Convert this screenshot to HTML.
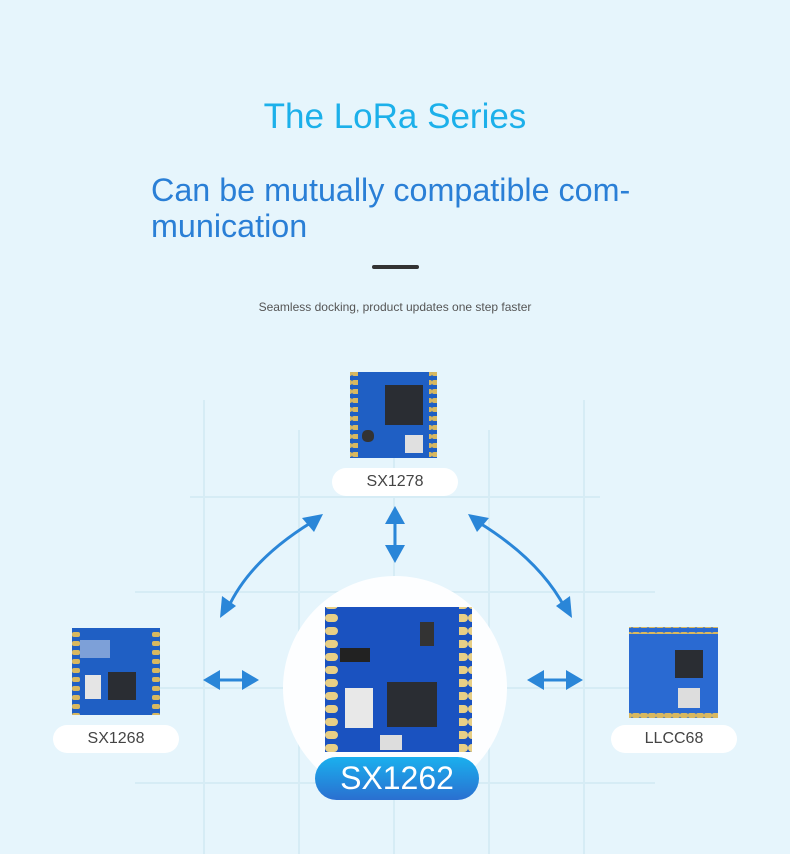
<!DOCTYPE html>
<html><head><meta charset="utf-8"><style>
body{margin:0;width:790px;height:854px;overflow:hidden;background:#e6f5fc;font-family:"Liberation Sans",sans-serif;position:relative}
.a{position:absolute}
.t1{left:0;width:790px;text-align:center;top:97px;font-size:35px;color:#1cb0ea}
.t2{left:151px;top:172px;font-size:32.3px;line-height:36px;color:#2a7fd6;width:520px}
.bar{left:372px;top:265px;width:47px;height:4px;background:#333;border-radius:2px}
.t3{left:0;width:790px;text-align:center;top:300px;font-size:12px;color:#555}
.pill{background:#fff;border-radius:14px;height:28px;width:126px;text-align:center;line-height:28px;font-size:16px;color:#444;font-family:"Liberation Sans Narrow","Liberation Sans",sans-serif}
.big{left:315px;top:757px;width:164px;height:43px;border-radius:22px;background:linear-gradient(#1ab0ee,#2a6fd0);color:#fff;font-size:32px;line-height:43px;text-align:center;font-family:"Liberation Sans Narrow","Liberation Sans",sans-serif}
</style></head><body>
<svg class="a" style="left:0;top:0" width="790" height="854">
<g stroke="#d6ecf5" stroke-width="2" fill="none">
<line x1="204" y1="400" x2="204" y2="854"/><line x1="299" y1="430" x2="299" y2="854"/><line x1="394" y1="430" x2="394" y2="854"/><line x1="489" y1="430" x2="489" y2="854"/><line x1="584" y1="400" x2="584" y2="854"/>
<line x1="190" y1="497" x2="600" y2="497"/><line x1="135" y1="592" x2="655" y2="592"/><line x1="135" y1="688" x2="655" y2="688"/><line x1="135" y1="783" x2="655" y2="783"/>
</g>
<circle cx="395" cy="688" r="112" fill="#fdfeff"/>
<g stroke="#2a86d8" stroke-width="3" fill="none">
<path d="M312 522 Q250 560 228 608"/><path d="M478 522 Q540 560 565 608"/>
<line x1="395" y1="515" x2="395" y2="556"/><line x1="210" y1="680" x2="252" y2="680"/><line x1="534" y1="680" x2="576" y2="680"/>
</g>
<g fill="#2a86d8">
<polygon points="323,514 302,518 314,532"/><polygon points="220,618 222,596 236,606"/>
<polygon points="468,514 489,518 477,532"/><polygon points="572,618 570,596 556,606"/>
<polygon points="395,506 385,524 405,524"/><polygon points="395,563 385,545 405,545"/>
<polygon points="203,680 220,670 220,690"/><polygon points="259,680 242,670 242,690"/>
<polygon points="527,680 544,670 544,690"/><polygon points="583,680 566,670 566,690"/>
</g>
<defs><pattern id="pd" width="8" height="9" patternUnits="userSpaceOnUse"><rect x="0" y="2" width="8" height="5" rx="2" fill="#d8b860"/></pattern>
<pattern id="ps" width="13" height="13" patternUnits="userSpaceOnUse"><rect x="0" y="3" width="13" height="8" rx="4" fill="#e8cf85"/></pattern></defs>
<g><rect x="350" y="372" width="87" height="86" fill="#1f5fc4"/><rect x="350" y="372" width="8" height="86" fill="url(#pd)"/><rect x="429" y="372" width="8" height="86" fill="url(#pd)"/><rect x="385" y="385" width="38" height="40" fill="#2a2d33"/><rect x="405" y="435" width="18" height="18" fill="#e0e0e0"/><rect x="362" y="430" width="12" height="12" rx="5" fill="#333"/></g>
<g><rect x="72" y="628" width="88" height="87" fill="#1f5fc4"/><rect x="72" y="628" width="8" height="87" fill="url(#pd)"/><rect x="152" y="628" width="8" height="87" fill="url(#pd)"/><rect x="108" y="672" width="28" height="28" fill="#2a2d33"/><rect x="85" y="675" width="16" height="24" fill="#e5e5e5"/><rect x="80" y="640" width="30" height="18" fill="#7da0d8"/></g>
<g><rect x="629" y="627" width="89" height="91" fill="#2a6ad2"/><rect x="629" y="627" width="89" height="7" fill="url(#pd)"/><rect x="629" y="711" width="89" height="7" fill="url(#pd)"/><rect x="675" y="650" width="28" height="28" fill="#2a2d33"/><rect x="678" y="688" width="22" height="20" fill="#ddd"/></g>
<g><rect x="325" y="607" width="147" height="145" fill="#1a52c0"/><rect x="325" y="607" width="13" height="145" fill="url(#ps)"/><rect x="459" y="607" width="13" height="145" fill="url(#ps)"/><rect x="387" y="682" width="50" height="45" fill="#2a2d33"/><rect x="345" y="688" width="28" height="40" fill="#e8e8e8"/><rect x="340" y="648" width="30" height="14" fill="#222"/><rect x="420" y="622" width="14" height="24" fill="#333"/><rect x="380" y="735" width="22" height="15" fill="#ddd"/></g>
</svg>
<div class="a t1">The LoRa Series</div>
<div class="a t2">Can be mutually compatible com-<br>munication</div>
<div class="a bar"></div>
<div class="a t3">Seamless docking, product updates one step faster</div>
<div class="a pill" style="left:332px;top:468px">SX1278</div>
<div class="a pill" style="left:53px;top:725px">SX1268</div>
<div class="a pill" style="left:611px;top:725px">LLCC68</div>
<div class="a big">SX1262</div>
</body></html>
